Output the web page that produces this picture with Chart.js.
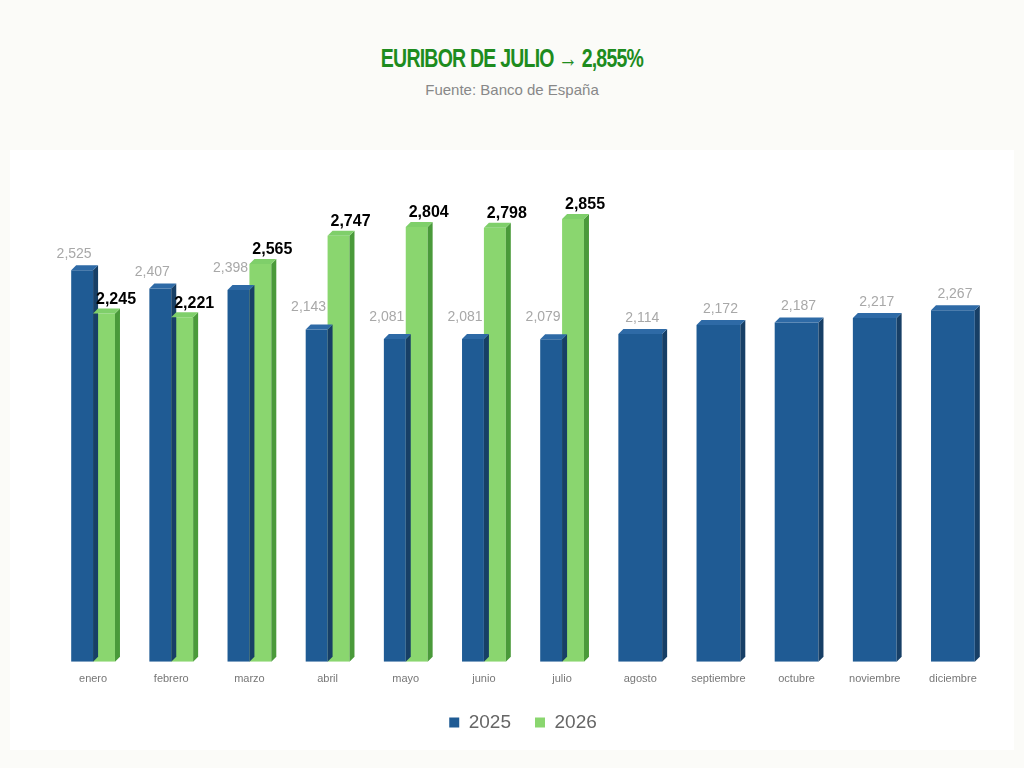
<!DOCTYPE html>
<html><head><meta charset="utf-8">
<script src="https://cdn.jsdelivr.net/npm/chart.js@4"></script>
<style>
body{margin:0;background:#fbfbf8;width:1024px;height:768px;overflow:hidden;font-family:"Liberation Sans",sans-serif}
#t{position:absolute;top:44px;width:1024px;text-align:center;font-family:"Liberation Sans",sans-serif;font-weight:bold;font-size:25px;color:#1e8c1e;letter-spacing:-1px;transform:scaleX(0.78)}
#s{position:absolute;top:81px;width:1024px;text-align:center;font-size:15px;color:#888}
#p{position:absolute;left:10px;top:150px;width:1004px;height:600px;background:#fff}
</style></head><body>
<div id="t">EURIBOR DE JULIO → 2,855%</div>
<div id="s">Fuente: Banco de España</div>
<div id="p"><canvas id="c" width="1004" height="600"></canvas></div>
<script>
var meses = ['enero','febrero','marzo','abril','mayo','junio','julio','agosto','septiembre','octubre','noviembre','diciembre'];
var v2025 = [2.525,2.407,2.398,2.143,2.081,2.081,2.079,2.114,2.172,2.187,2.217,2.267];
var v2026 = [2.245,2.221,2.565,2.747,2.804,2.798,2.855,null,null,null,null,null];

function fmt(v){ return v.toFixed(3).replace('.',','); }

var depth = {
  id:'depth',
  afterDatasetsDraw: function(chart){
    var ctx = chart.ctx;
    var sides = ['#173f66','#4a9a3a'], tops = ['#2e6aa6','#7fcf6a'];
    chart.data.datasets.forEach(function(ds,i){
      chart.getDatasetMeta(i).data.forEach(function(b,j){
        if(ds.data[j]==null) return;
        var w = b.width/2, d = 5;
        ctx.fillStyle = sides[i];
        ctx.beginPath();
        ctx.moveTo(b.x+w,b.y); ctx.lineTo(b.x+w+d,b.y-d); ctx.lineTo(b.x+w+d,b.base-d); ctx.lineTo(b.x+w,b.base);
        ctx.fill();
        ctx.fillStyle = tops[i];
        ctx.beginPath();
        ctx.moveTo(b.x-w,b.y); ctx.lineTo(b.x-w+d,b.y-d); ctx.lineTo(b.x+w+d,b.y-d); ctx.lineTo(b.x+w,b.y);
        ctx.fill();
        ctx.textAlign='center';
        if(i==0){
          ctx.font='14px "Liberation Sans", sans-serif'; ctx.fillStyle='#a8a8a8';
          var paired = v2026[j]!=null;
          ctx.fillText(fmt(ds.data[j]), b.x-(paired?8:-2), b.y-(paired&&v2026[j]>ds.data[j]?22:16));
        } else {
          ctx.font='bold 16px "Liberation Sans", sans-serif'; ctx.fillStyle='#000';
          ctx.fillText(fmt(ds.data[j]), b.x+12, b.y-14);
        }
      });
    });
  }
};

new Chart(document.getElementById('c'),{
  type:'bar',
  data:{labels:meses,datasets:[
    {label:'2025',data:v2025,backgroundColor:'#1f5b94',skipNull:true},
    {label:'2026',data:v2026,backgroundColor:'#8ad66f',skipNull:true}
  ]},
  options:{responsive:false,animation:false,
    datasets:{bar:{barPercentage:1,categoryPercentage:0.56}},
    layout:{padding:{left:44,right:22,top:0,bottom:8}},
    scales:{
      y:{display:false,min:0,max:3.3},
      x:{grid:{display:false},border:{display:false},ticks:{color:'#777',font:{size:11}}}
    },
    plugins:{
      legend:{position:'bottom',labels:{boxWidth:10,boxHeight:10,padding:24,color:'#666',font:{size:19}}},
      tooltip:{enabled:false}
    }
  },
  plugins:[depth]
});
</script>
</body></html>
